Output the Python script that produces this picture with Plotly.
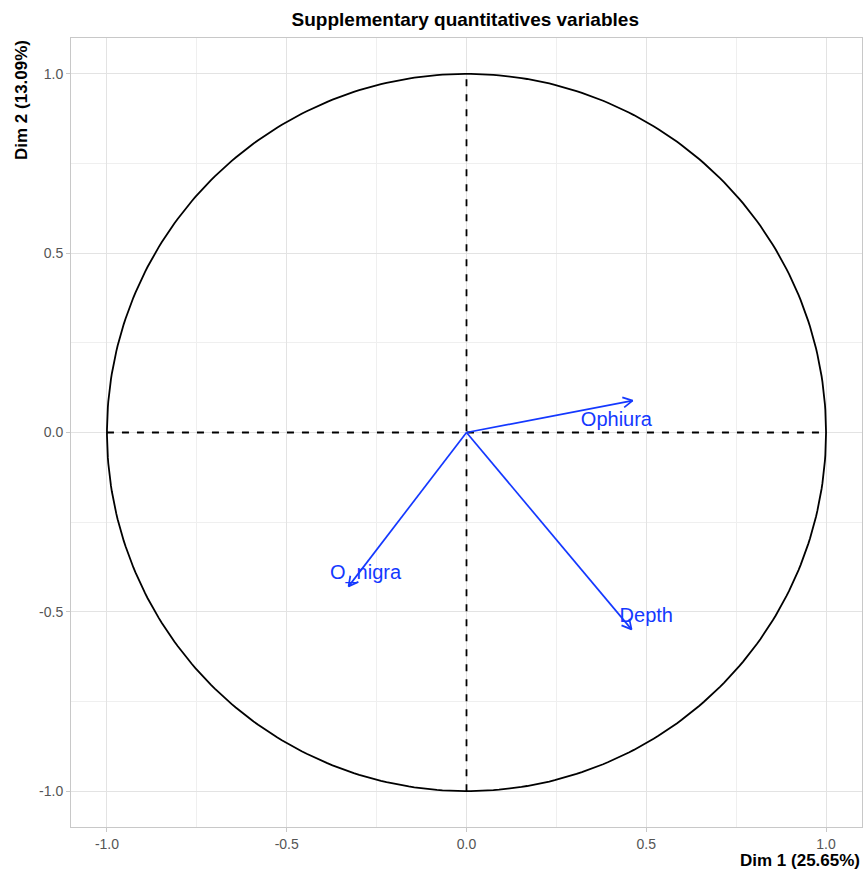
import numpy as np
import plotly.graph_objects as go

variables = ["Ophiura", "Depth", "O_nigra"]
dim1 = [0.462, 0.459, -0.328]
dim2 = [0.089, -0.549, -0.429]
label_x = [0.417, 0.500, -0.281]
label_y = [0.031, -0.515, -0.395]
tick_vals = [-1.0, -0.5, 0.0, 0.5, 1.0]
tick_text = ["-1.0", "-0.5", "0.0", "0.5", "1.0"]
minor_vals = [-0.75, -0.25, 0.25, 0.75]

BLUE = "#1438FF"
FONT = "Liberation Sans, Arial, sans-serif"

fig = go.Figure()

# correlation circle
theta = np.linspace(0, 2 * np.pi, 400)
fig.add_trace(go.Scatter(x=np.cos(theta), y=np.sin(theta), mode="lines",
                         line=dict(color="black", width=1.8), hoverinfo="skip"))
# dashed axes
fig.add_trace(go.Scatter(x=[-1, 1], y=[0, 0], mode="lines",
                         line=dict(color="black", width=1.8, dash="7px,8px"), hoverinfo="skip"))
fig.add_trace(go.Scatter(x=[0, 0], y=[-1, 1], mode="lines",
                         line=dict(color="black", width=1.8, dash="7px,8px"), hoverinfo="skip"))

# arrows with open heads
head_len = 0.03
head_ang = np.deg2rad(28)
for name, x, y in zip(variables, dim1, dim2):
    ang = np.arctan2(y, x)
    hx1 = x - head_len * np.cos(ang - head_ang)
    hy1 = y - head_len * np.sin(ang - head_ang)
    hx2 = x - head_len * np.cos(ang + head_ang)
    hy2 = y - head_len * np.sin(ang + head_ang)
    fig.add_trace(go.Scatter(x=[0, x, None, hx1, x, hx2],
                             y=[0, y, None, hy1, y, hy2],
                             mode="lines", line=dict(color=BLUE, width=1.7),
                             hoverinfo="skip"))

fig.add_trace(go.Scatter(x=label_x, y=label_y, mode="text", text=variables,
                         textfont=dict(color=BLUE, size=20, family=FONT),
                         textposition="middle center", hoverinfo="skip"))

axis_common = dict(
    range=[-1.1, 1.1], tickvals=tick_vals, ticktext=tick_text,
    showgrid=True, gridcolor="#E3E3E3", gridwidth=1,
    zeroline=False, showline=True, linecolor="#C8C8C8", linewidth=1, mirror=True,
    ticks="outside", ticklen=4, tickcolor="#C8C8C8", tickwidth=1,
    tickfont=dict(size=14, color="#555555", family=FONT),
    minor=dict(tickvals=minor_vals, showgrid=True, gridcolor="#EFEFEF", gridwidth=1, ticks=""),
)
fig.update_xaxes(**axis_common)
fig.update_yaxes(**axis_common)

fig.update_layout(
    width=864, height=873,
    margin=dict(l=71, r=2, t=38, b=46),
    plot_bgcolor="white", paper_bgcolor="white",
    showlegend=False,
    font=dict(family=FONT),
    title=dict(text="<b>Supplementary quantitatives variables</b>", x=0.5385, xanchor="center",
               y=1 - 19 / 873, yanchor="middle", font=dict(size=19, color="black", family=FONT)),
    annotations=[
        dict(text="<b>Dim 1 (25.65%)</b>", xref="paper", yref="paper", x=1, y=-33 / 789,
             xanchor="right", yanchor="middle", showarrow=False,
             font=dict(size=17, color="black", family=FONT)),
        dict(text="<b>Dim 2 (13.09%)</b>", xref="paper", yref="paper", x=-50 / 791, y=1,
             xanchor="center", yanchor="top", textangle=-90, showarrow=False,
             font=dict(size=17, color="black", family=FONT)),
    ],
)

fig.write_html("out.html", config={"displayModeBar": False},
               post_script="document.body.style.margin='0';")
